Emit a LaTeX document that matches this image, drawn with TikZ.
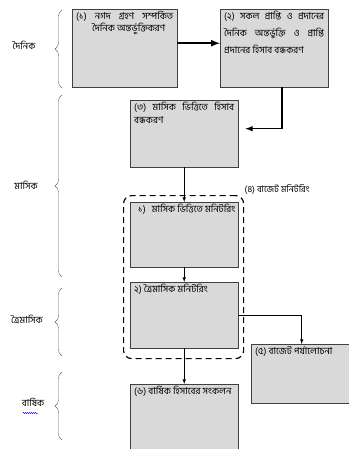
\documentclass[tikz,border=0pt]{standalone}
\usepackage{fontspec}
\newfontfamily\bn[Script=Bengali]{Hind Siliguri}
\usetikzlibrary{decorations.pathreplacing,decorations.pathmorphing}
\definecolor{boxgray}{RGB}{217,217,217}
\newcommand\stagetext[3]{\parbox[t][#1pt][t]{#2pt}{#3}}

\begin{document}
\begin{tikzpicture}[x=1pt,y=-1pt,
    stage/.style={draw=black!75, fill=boxgray, anchor=north west, inner xsep=4pt, inner ysep=2pt, font=\bn\fontsize{9.5}{12.5}\selectfont},
    period/.style={font=\bn\fontsize{9.5}{11}\selectfont},
    span/.style={decorate, decoration={brace, amplitude=7pt}, draw=black!60, thin}]
    \useasboundingbox (0,0) rectangle (348,449);
    %\draw[very thin,color=gray] (0,0) grid[step=50] (348,449);

    % periods
    \node[period] (daily) at (24,45) {দৈনিক};
    \node[period] (monthlyp) at (26,185) {মাসিক};
    \node[period] (quarterly) at (27,319) {ত্রৈমাসিক};
    \node[period] (yearly) at (33,402) {বার্ষিক};
    \draw[span] (62,88) -- (62,10);
    \draw[span] (62,277) -- (62,95);
    \draw[span] (62,356) -- (62,288);
    \draw[span] (62,440) -- (62,372);
    \draw[blue, decorate, decoration={snake, amplitude=0.6pt, segment length=2pt}] (23,413) -- (38,413);

    % stages
    \node[stage] (cash) at (72,9) {\stagetext{74}{97}{\hangindent=16pt\hangafter=1 (১) নগদ গ্রহণ সম্পর্কিত\linebreak দৈনিক অন্তর্ভুক্তিকরণ}};
    \node[stage, font=\bn\fontsize{9.5}{17}\selectfont] (close) at (220,9) {\stagetext{74}{100}{(২) সকল প্রাপ্তি ও প্রদানের\linebreak দৈনিক অন্তর্ভুক্তি ও প্রাপ্তি\linebreak প্রদানের হিসাব বন্ধকরণ}};
    \node[stage] (monthly) at (130,100) {\stagetext{63}{100}{(৩) মাসিক ভিত্তিতে হিসাব\linebreak বন্ধকরণ}};
    \node[draw, dash pattern=on 6pt off 4pt, line width=1.2pt, rounded corners=8pt, inner sep=0pt,
        minimum width=120pt, minimum height=163pt, anchor=north west] (mon) at (123,195) {};
    \node[font=\bn\fontsize{9}{11}\selectfont, anchor=base west] (monlabel) at ([xshift=-3pt,yshift=3pt]mon.north east) {(৪) বাজেট মনিটরিং};
    \node[stage] (mon1) at (130,202) {\stagetext{61}{100}{\mbox{\hspace*{4pt}১)\hspace{6pt}মাসিক ভিত্তিতে মনিটরিং}}};
    \node[stage] (quart) at (130,282) {\stagetext{62}{100}{২) ত্রৈমাসিক মনিটরিং}};
    \node[stage] (review) at (251,344) {\stagetext{55}{93}{(৫) বাজেট পর্যালোচনা}};
    \node[stage] (annual) at (130,384) {\stagetext{66}{100}{(৬) বার্ষিক হিসাবের সংকলন}};

    % flow
    \draw[line width=2pt,->,>=latex] ([yshift=5pt]cash.east) -- ([yshift=5pt]close.west);
    \draw[line width=1.5pt,->,>=latex] ([xshift=8pt]close.south) |- ([xshift=7pt,yshift=5pt]monthly.east);
    \draw[semithick,->,>=latex] (monthly) -- (mon1);
    \draw[semithick,->,>=latex] (mon1) -- (quart);
    \draw[semithick,->,>=latex] (quart.east) -| (review.north);
    \draw[semithick,->,>=latex] (quart) -- (annual);
\end{tikzpicture}
\end{document}
